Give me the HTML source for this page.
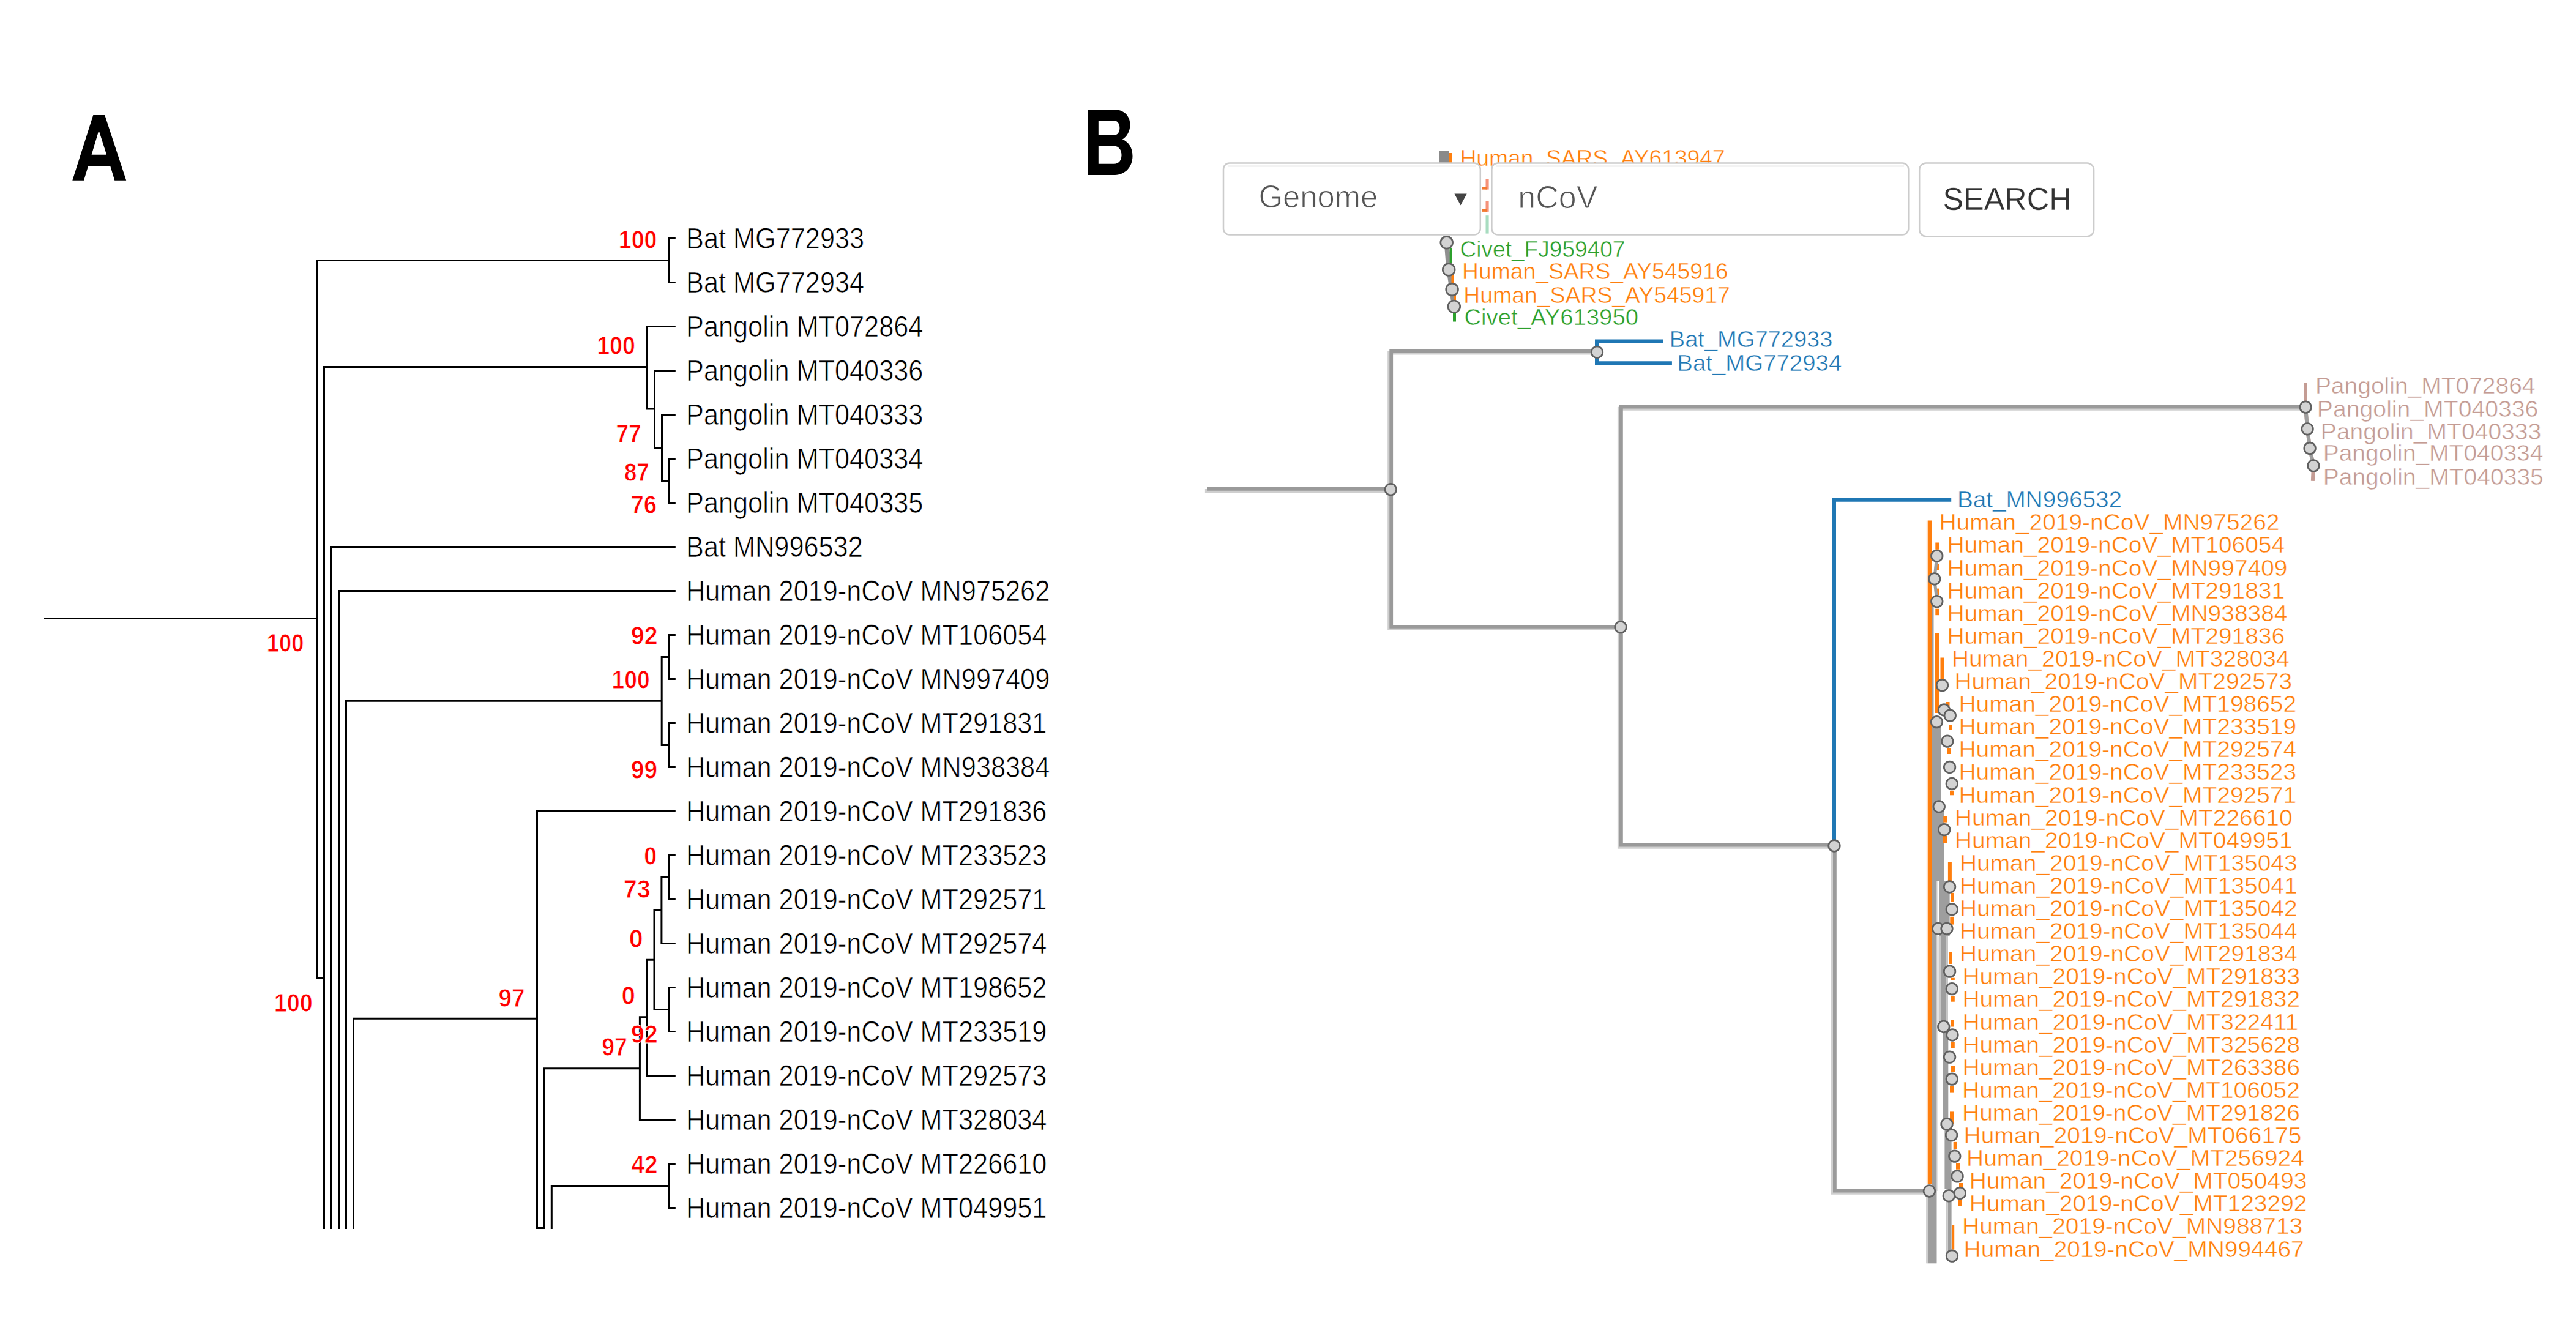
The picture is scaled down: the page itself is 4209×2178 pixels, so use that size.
<!DOCTYPE html>
<html><head><meta charset="utf-8"><style>
html,body{margin:0;padding:0;background:#fff;}
svg{display:block;}
text{font-family:"Liberation Sans", sans-serif;}
</style></head><body>
<svg width="4209" height="2178" viewBox="0 0 4209 2178">
<rect width="4209" height="2178" fill="#fff"/>
<path fill-rule="evenodd" fill="#000" d="M118.3,294.8L152.3,187.9L171.2,187.9L206.2,294.8L187.3,294.8L180.1,270.9L144.2,270.9L137,294.8Z M149.6,252.8L161.5,212.9L174.1,252.8Z"/>
<path fill-rule="evenodd" fill="#000" d="M1777.2,179H1820.4C1836,179 1846.5,189 1846.5,203.5C1846.5,215 1841,223.5 1833.9,227.8C1844.5,232 1850.5,242 1850.5,255C1850.5,273 1838,285.9 1822,285.9H1777.2Z M1794.8,197H1820C1826,197 1829.4,202 1829.4,209C1829.4,216 1826,221 1820,221H1794.8Z M1794.8,238.8H1820.5C1828,238.8 1832.5,245 1832.5,253.3C1832.5,262 1828,267.8 1820.5,267.8H1794.8Z"/>
<path d="M73.5,1010.5L517.5,1010.5M517.5,425.5L517.5,1597.5M517.5,425.5L1093.2,425.5M517.5,1597.5L529.5,1597.5M529.5,599.5L529.5,2006.5M529.5,599.5L1057.2,599.5M541.5,893.4L541.5,2006.5M541.5,893.4L1102.3,893.4M553.5,965.4L553.5,2006.5M553.5,965.4L1102.3,965.4M565.5,1145.3L565.5,2006.5M565.5,1145.3L1081.2,1145.3M577.5,1664.3L577.5,2006.5M577.5,1664.3L877.5,1664.3M1093.2,389.4L1093.2,461.4M1093.2,389.4L1102.3,389.4M1093.2,461.4L1102.3,461.4M1057.2,533.4L1057.2,668M1057.2,533.4L1102.3,533.4M1057.2,668L1069.5,668M1069.5,605.4L1069.5,731.5M1069.5,605.4L1102.3,605.4M1069.5,731.5L1081.5,731.5M1081.5,677.4L1081.5,785.4M1081.5,677.4L1102.3,677.4M1081.5,785.4L1093.2,785.4M1093.2,749.4L1093.2,821.4M1093.2,749.4L1102.3,749.4M1093.2,821.4L1102.3,821.4M1081.2,1073.4L1081.2,1217.4M1081.2,1073.4L1093.2,1073.4M1081.2,1217.4L1093.2,1217.4M1093.2,1037.4L1093.2,1109.4M1093.2,1037.4L1102.3,1037.4M1093.2,1109.4L1102.3,1109.4M1093.2,1181.4L1093.2,1253.4M1093.2,1181.4L1102.3,1181.4M1093.2,1253.4L1102.3,1253.4M877.5,1325.4L877.5,2006.5M877.5,1325.4L1102.3,1325.4M1093.2,1397.4L1093.2,1469.4M1093.2,1397.4L1102.3,1397.4M1093.2,1469.4L1102.3,1469.4M1080.9,1433.4L1093.2,1433.4M1080.9,1433.4L1080.9,1541.4M1080.9,1541.4L1102.3,1541.4M1069,1487.4L1080.9,1487.4M1069,1487.4L1069,1649.4M1069,1649.4L1093.2,1649.4M1093.2,1613.4L1093.2,1685.4M1093.2,1613.4L1102.3,1613.4M1093.2,1685.4L1102.3,1685.4M1057.1,1568.3L1069,1568.3M1057.1,1568.3L1057.1,1757.4M1057.1,1757.4L1102.3,1757.4M1045.4,1661.7L1057.1,1661.7M1045.4,1661.7L1045.4,1829.4M1045.4,1829.4L1102.3,1829.4M889.4,1745.7L1045.4,1745.7M889.4,1745.7L889.4,2006.5M1093.2,1901.4L1093.2,1973.4M1093.2,1901.4L1102.3,1901.4M1093.2,1973.4L1102.3,1973.4M901.3,1937.5L1093.2,1937.5M901.3,1937.5L901.3,2006.5M877.5,2006.5L889.4,2006.5" fill="none" stroke="#000" stroke-width="3" stroke-linecap="square"/>
<text transform="translate(1121.04,406.30) scale(0.9020,1)" font-size="48" font-weight="normal" fill="#000" stroke="#fff" stroke-width="0.7">Bat MG772933</text>
<text transform="translate(1121.04,478.30) scale(0.9020,1)" font-size="48" font-weight="normal" fill="#000" stroke="#fff" stroke-width="0.7">Bat MG772934</text>
<text transform="translate(1121.04,550.30) scale(0.9020,1)" font-size="48" font-weight="normal" fill="#000" stroke="#fff" stroke-width="0.7">Pangolin MT072864</text>
<text transform="translate(1121.04,622.30) scale(0.9020,1)" font-size="48" font-weight="normal" fill="#000" stroke="#fff" stroke-width="0.7">Pangolin MT040336</text>
<text transform="translate(1121.04,694.30) scale(0.9020,1)" font-size="48" font-weight="normal" fill="#000" stroke="#fff" stroke-width="0.7">Pangolin MT040333</text>
<text transform="translate(1121.04,766.30) scale(0.9020,1)" font-size="48" font-weight="normal" fill="#000" stroke="#fff" stroke-width="0.7">Pangolin MT040334</text>
<text transform="translate(1121.04,838.30) scale(0.9020,1)" font-size="48" font-weight="normal" fill="#000" stroke="#fff" stroke-width="0.7">Pangolin MT040335</text>
<text transform="translate(1121.04,910.30) scale(0.9020,1)" font-size="48" font-weight="normal" fill="#000" stroke="#fff" stroke-width="0.7">Bat MN996532</text>
<text transform="translate(1121.04,982.30) scale(0.9020,1)" font-size="48" font-weight="normal" fill="#000" stroke="#fff" stroke-width="0.7">Human 2019-nCoV MN975262</text>
<text transform="translate(1121.04,1054.30) scale(0.9020,1)" font-size="48" font-weight="normal" fill="#000" stroke="#fff" stroke-width="0.7">Human 2019-nCoV MT106054</text>
<text transform="translate(1121.04,1126.30) scale(0.9020,1)" font-size="48" font-weight="normal" fill="#000" stroke="#fff" stroke-width="0.7">Human 2019-nCoV MN997409</text>
<text transform="translate(1121.04,1198.30) scale(0.9020,1)" font-size="48" font-weight="normal" fill="#000" stroke="#fff" stroke-width="0.7">Human 2019-nCoV MT291831</text>
<text transform="translate(1121.04,1270.30) scale(0.9020,1)" font-size="48" font-weight="normal" fill="#000" stroke="#fff" stroke-width="0.7">Human 2019-nCoV MN938384</text>
<text transform="translate(1121.04,1342.30) scale(0.9020,1)" font-size="48" font-weight="normal" fill="#000" stroke="#fff" stroke-width="0.7">Human 2019-nCoV MT291836</text>
<text transform="translate(1121.04,1414.30) scale(0.9020,1)" font-size="48" font-weight="normal" fill="#000" stroke="#fff" stroke-width="0.7">Human 2019-nCoV MT233523</text>
<text transform="translate(1121.04,1486.30) scale(0.9020,1)" font-size="48" font-weight="normal" fill="#000" stroke="#fff" stroke-width="0.7">Human 2019-nCoV MT292571</text>
<text transform="translate(1121.04,1558.30) scale(0.9020,1)" font-size="48" font-weight="normal" fill="#000" stroke="#fff" stroke-width="0.7">Human 2019-nCoV MT292574</text>
<text transform="translate(1121.04,1630.30) scale(0.9020,1)" font-size="48" font-weight="normal" fill="#000" stroke="#fff" stroke-width="0.7">Human 2019-nCoV MT198652</text>
<text transform="translate(1121.04,1702.30) scale(0.9020,1)" font-size="48" font-weight="normal" fill="#000" stroke="#fff" stroke-width="0.7">Human 2019-nCoV MT233519</text>
<text transform="translate(1121.04,1774.30) scale(0.9020,1)" font-size="48" font-weight="normal" fill="#000" stroke="#fff" stroke-width="0.7">Human 2019-nCoV MT292573</text>
<text transform="translate(1121.04,1846.30) scale(0.9020,1)" font-size="48" font-weight="normal" fill="#000" stroke="#fff" stroke-width="0.7">Human 2019-nCoV MT328034</text>
<text transform="translate(1121.04,1918.30) scale(0.9020,1)" font-size="48" font-weight="normal" fill="#000" stroke="#fff" stroke-width="0.7">Human 2019-nCoV MT226610</text>
<text transform="translate(1121.04,1990.30) scale(0.9020,1)" font-size="48" font-weight="normal" fill="#000" stroke="#fff" stroke-width="0.7">Human 2019-nCoV MT049951</text>
<text transform="translate(1010.75,405.50) scale(0.8948,1)" font-size="42" font-weight="bold" fill="#f00" stroke="#fff" stroke-width="0.9">100</text>
<text transform="translate(975.14,579.40) scale(0.8963,1)" font-size="42" font-weight="bold" fill="#f00" stroke="#fff" stroke-width="0.9">100</text>
<text transform="translate(1006.52,722.80) scale(0.8784,1)" font-size="42" font-weight="bold" fill="#f00" stroke="#fff" stroke-width="0.9">77</text>
<text transform="translate(1019.90,785.80) scale(0.8700,1)" font-size="42" font-weight="bold" fill="#f00" stroke="#fff" stroke-width="0.9">87</text>
<text transform="translate(1030.46,839.30) scale(0.9158,1)" font-size="42" font-weight="bold" fill="#f00" stroke="#fff" stroke-width="0.9">76</text>
<text transform="translate(435.71,1065.40) scale(0.8675,1)" font-size="42" font-weight="bold" fill="#f00" stroke="#fff" stroke-width="0.9">100</text>
<text transform="translate(1030.82,1053.20) scale(0.9388,1)" font-size="42" font-weight="bold" fill="#f00" stroke="#fff" stroke-width="0.9">92</text>
<text transform="translate(999.56,1125.20) scale(0.8872,1)" font-size="42" font-weight="bold" fill="#f00" stroke="#fff" stroke-width="0.9">100</text>
<text transform="translate(1030.83,1272.00) scale(0.9297,1)" font-size="42" font-weight="bold" fill="#f00" stroke="#fff" stroke-width="0.9">99</text>
<text transform="translate(1052.20,1412.90) scale(0.8929,1)" font-size="42" font-weight="bold" fill="#f00" stroke="#fff" stroke-width="0.9">0</text>
<text transform="translate(1018.82,1467.30) scale(0.9432,1)" font-size="42" font-weight="bold" fill="#f00" stroke="#fff" stroke-width="0.9">73</text>
<text transform="translate(1027.75,1547.90) scale(0.9821,1)" font-size="42" font-weight="bold" fill="#f00" stroke="#fff" stroke-width="0.9">0</text>
<text transform="translate(1015.38,1641.00) scale(0.9623,1)" font-size="42" font-weight="bold" fill="#f00" stroke="#fff" stroke-width="0.9">0</text>
<text transform="translate(1030.71,1704.00) scale(0.9433,1)" font-size="42" font-weight="bold" fill="#f00" stroke="#fff" stroke-width="0.9">92</text>
<text transform="translate(983.28,1725.40) scale(0.8906,1)" font-size="42" font-weight="bold" fill="#f00" stroke="#fff" stroke-width="0.9">97</text>
<text transform="translate(814.54,1644.90) scale(0.9226,1)" font-size="42" font-weight="bold" fill="#f00" stroke="#fff" stroke-width="0.9">97</text>
<text transform="translate(447.73,1653.20) scale(0.9008,1)" font-size="42" font-weight="bold" fill="#f00" stroke="#fff" stroke-width="0.9">100</text>
<text transform="translate(1031.51,1917.30) scale(0.9257,1)" font-size="42" font-weight="bold" fill="#f00" stroke="#fff" stroke-width="0.9">42</text>
<text transform="translate(2385.53,271.00) scale(0.9832,1)" font-size="37.8" font-weight="normal" fill="#ff7f0e" stroke="#fff" stroke-width="0.5">Human_SARS_AY613947</text>
<rect x="2427.5" y="292.3" width="5.1" height="17.3" fill="#f5927a"/>
<rect x="2421" y="305.5" width="9" height="4.1" fill="#f27a30"/>
<rect x="2427.5" y="328.6" width="5.1" height="17.3" fill="#f5927a"/>
<rect x="2421" y="341.8" width="9" height="4.1" fill="#f27a30"/>
<rect x="2427.5" y="352.2" width="5.1" height="29.4" fill="#a8dcc0"/>
<rect x="2352" y="247" width="15" height="19" fill="#8a8a8a"/>
<rect x="2367" y="250" width="6" height="16" fill="#ff7f0e"/>
<path d="M2363.7,396.3L2367.2,440.5L2372.6,473L2375.8,500.9" fill="none" stroke="#8f8f8f" stroke-width="8" stroke-linecap="square"/>
<path d="M2370.7,408L2370.7,428" fill="none" stroke="#2ca02c" stroke-width="4" stroke-linecap="square" stroke-linecap="butt"/>
<path d="M2373.5,447L2373.5,460" fill="none" stroke="#ff7f0e" stroke-width="4" stroke-linecap="square" stroke-linecap="butt"/>
<path d="M2377,481L2377,490" fill="none" stroke="#ff7f0e" stroke-width="4" stroke-linecap="square" stroke-linecap="butt"/>
<path d="M2376.5,511L2376.5,523" fill="none" stroke="#2ca02c" stroke-width="5" stroke-linecap="square" stroke-linecap="butt"/>
<circle cx="2363.7" cy="396.3" r="9.9" fill="#d3d3d3" stroke="#606060" stroke-width="2.7"/>
<circle cx="2367.2" cy="440.5" r="9.9" fill="#d3d3d3" stroke="#606060" stroke-width="2.7"/>
<circle cx="2372.6" cy="473.0" r="9.9" fill="#d3d3d3" stroke="#606060" stroke-width="2.7"/>
<circle cx="2375.8" cy="500.9" r="9.9" fill="#d3d3d3" stroke="#606060" stroke-width="2.7"/>
<text transform="translate(2385.45,419.80) scale(0.9813,1)" font-size="37.8" font-weight="normal" fill="#2ca02c" stroke="#fff" stroke-width="0.5">Civet_FJ959407</text>
<text transform="translate(2389.02,456.20) scale(0.9862,1)" font-size="37.8" font-weight="normal" fill="#ff7f0e" stroke="#fff" stroke-width="0.5">Human_SARS_AY545916</text>
<text transform="translate(2391.31,495.00) scale(0.9889,1)" font-size="37.8" font-weight="normal" fill="#ff7f0e" stroke="#fff" stroke-width="0.5">Human_SARS_AY545917</text>
<text transform="translate(2392.38,531.20) scale(1.0135,1)" font-size="37.8" font-weight="normal" fill="#2ca02c" stroke="#fff" stroke-width="0.5">Civet_AY613950</text>
<path transform="translate(-2.1,2.2)" d="M1974,799.7H2272.3M2272.3,574.4V1024.6M2272.3,574.4H2609.5M2272.3,1024.6H2648M2648,665.5V1381.5M2648,665.5H3767M2648,1381.5H2997M2997,1381.5V1946.5M2997,1946.5H3152.5" fill="none" stroke="#cfcfcf" stroke-width="6" stroke-linecap="square"/>
<path transform="translate(0.9,-0.8)" d="M1974,799.7H2272.3M2272.3,574.4V1024.6M2272.3,574.4H2609.5M2272.3,1024.6H2648M2648,665.5V1381.5M2648,665.5H3767M2648,1381.5H2997M2997,1381.5V1946.5M2997,1946.5H3152.5" fill="none" stroke="#9a9a9a" stroke-width="5.8" stroke-linecap="square"/>
<path d="M2714.7,557.4H2609V593.2H2728.9" fill="none" stroke="#1f77b4" stroke-width="6" stroke-linecap="square" stroke-linecap="butt"/>
<circle cx="2272.3" cy="799.7" r="9.3" fill="#d3d3d3" stroke="#606060" stroke-width="2.7"/>
<circle cx="2609.5" cy="575.3" r="9.3" fill="#d3d3d3" stroke="#606060" stroke-width="2.7"/>
<circle cx="2648.0" cy="1024.6" r="9.3" fill="#d3d3d3" stroke="#606060" stroke-width="2.7"/>
<text transform="translate(2727.75,567.20) scale(1.0074,1)" font-size="37.8" font-weight="normal" fill="#1f77b4" stroke="#fff" stroke-width="0.5">Bat_MG772933</text>
<text transform="translate(2740.33,606.00) scale(1.0160,1)" font-size="37.8" font-weight="normal" fill="#1f77b4" stroke="#fff" stroke-width="0.5">Bat_MG772934</text>
<path d="M2997,1381.5V816.7H3185.2" fill="none" stroke="#1f77b4" stroke-width="6" stroke-linecap="square" stroke-linecap="butt"/>
<circle cx="2997.0" cy="1382.0" r="9.3" fill="#d3d3d3" stroke="#606060" stroke-width="2.7"/>
<text transform="translate(3197.90,828.70) scale(1.0252,1)" font-size="37.8" font-weight="normal" fill="#1f77b4" stroke="#fff" stroke-width="0.5">Bat_MN996532</text>
<path d="M3767,628.6L3767,665.2L3770.1,700.8L3774.1,732.4L3780,761L3779,782.8" fill="none" stroke="#c49c94" stroke-width="6" stroke-linecap="square" stroke-linecap="butt"/>
<path d="M3767.2,665.2L3770.1,700.8L3774.1,732.4L3780,761" fill="none" stroke="#9e9e9e" stroke-width="6" stroke-linecap="square"/>
<circle cx="3767.2" cy="665.2" r="9.3" fill="#d3d3d3" stroke="#606060" stroke-width="2.7"/>
<circle cx="3770.1" cy="700.8" r="9.3" fill="#d3d3d3" stroke="#606060" stroke-width="2.7"/>
<circle cx="3774.1" cy="732.4" r="9.3" fill="#d3d3d3" stroke="#606060" stroke-width="2.7"/>
<circle cx="3780.0" cy="761.0" r="9.3" fill="#d3d3d3" stroke="#606060" stroke-width="2.7"/>
<text transform="translate(3782.88,642.50) scale(1.0315,1)" font-size="37.8" font-weight="normal" fill="#c49c94" stroke="#fff" stroke-width="0.5">Pangolin_MT072864</text>
<text transform="translate(3785.87,681.00) scale(1.0367,1)" font-size="37.8" font-weight="normal" fill="#c49c94" stroke="#fff" stroke-width="0.5">Pangolin_MT040336</text>
<text transform="translate(3791.67,717.60) scale(1.0341,1)" font-size="37.8" font-weight="normal" fill="#c49c94" stroke="#fff" stroke-width="0.5">Pangolin_MT040333</text>
<text transform="translate(3795.68,753.10) scale(1.0318,1)" font-size="37.8" font-weight="normal" fill="#c49c94" stroke="#fff" stroke-width="0.5">Pangolin_MT040334</text>
<text transform="translate(3795.68,791.70) scale(1.0329,1)" font-size="37.8" font-weight="normal" fill="#c49c94" stroke="#fff" stroke-width="0.5">Pangolin_MT040335</text>
<rect x="3156.5" y="983.0" width="3.0" height="197.0" fill="#9e9e9e"/>
<rect x="3156.3" y="1180.0" width="15.0" height="138.0" fill="#9e9e9e"/>
<rect x="3156.3" y="1318.0" width="7.2" height="628.0" fill="#9e9e9e"/>
<rect x="3163.5" y="1318.0" width="2.0" height="628.0" fill="#c8c8c8"/>
<rect x="3162.0" y="1318.0" width="14.5" height="122.0" fill="#9e9e9e"/>
<rect x="3168.3" y="1440.0" width="17.3" height="90.0" fill="#9e9e9e"/>
<rect x="3171.3" y="1530.0" width="8.2" height="140.0" fill="#9e9e9e"/>
<rect x="3179.5" y="1530.0" width="3.5" height="140.0" fill="#c8c8c8"/>
<rect x="3167.5" y="1530.0" width="3.8" height="140.0" fill="#c8c8c8"/>
<rect x="3174.3" y="1670.0" width="9.0" height="170.0" fill="#9e9e9e"/>
<rect x="3177.4" y="1840.0" width="11.2" height="103.0" fill="#9e9e9e"/>
<rect x="3182.6" y="1943.0" width="6.0" height="109.0" fill="#9e9e9e"/>
<rect x="3179.6" y="1943.0" width="3.0" height="109.0" fill="#c8c8c8"/>
<rect x="3149.8" y="1946.0" width="14.7" height="118.3" fill="#9e9e9e"/>
<rect x="3147.2" y="1946.0" width="2.6" height="118.3" fill="#c8c8c8"/>
<rect x="3150.3" y="850.5" width="6.0" height="1084.5" fill="#ff7f0e"/>
<rect x="3147.8" y="850.5" width="2.5" height="1084.5" fill="#ffd9b8"/>
<rect x="3162.0" y="1035.0" width="6.0" height="130.0" fill="#ff7f0e"/>
<rect x="3170.5" y="1074.5" width="6.0" height="44.5" fill="#ff7f0e"/>
<rect x="3162.3" y="886.5" width="6.0" height="11.3" fill="#ff7f0e"/>
<rect x="3162.3" y="921.0" width="6.0" height="10.6" fill="#ff7f0e"/>
<rect x="3162.3" y="961.6" width="6.0" height="10.4" fill="#ff7f0e"/>
<rect x="3162.3" y="994.7" width="6.0" height="10.5" fill="#ff7f0e"/>
<rect x="3179.5" y="1147.0" width="6.0" height="7.0" fill="#ff7f0e"/>
<rect x="3184.0" y="1184.0" width="6.0" height="8.0" fill="#ff7f0e"/>
<rect x="3181.0" y="1222.0" width="6.0" height="10.0" fill="#ff7f0e"/>
<rect x="3186.0" y="1291.8" width="6.0" height="7.5" fill="#ff7f0e"/>
<rect x="3175.3" y="1333.0" width="6.0" height="10.6" fill="#ff7f0e"/>
<rect x="3175.0" y="1366.0" width="6.0" height="11.4" fill="#ff7f0e"/>
<rect x="3182.9" y="1408.0" width="6.0" height="32.0" fill="#ff7f0e"/>
<rect x="3187.0" y="1458.8" width="6.0" height="15.0" fill="#ff7f0e"/>
<rect x="3186.3" y="1497.8" width="6.0" height="12.8" fill="#ff7f0e"/>
<rect x="3184.0" y="1555.6" width="6.0" height="19.4" fill="#ff7f0e"/>
<rect x="3187.8" y="1597.7" width="6.0" height="4.3" fill="#ff7f0e"/>
<rect x="3187.8" y="1627.0" width="6.0" height="9.7" fill="#ff7f0e"/>
<rect x="3187.0" y="1667.0" width="6.0" height="10.5" fill="#ff7f0e"/>
<rect x="3187.8" y="1702.3" width="6.0" height="10.5" fill="#ff7f0e"/>
<rect x="3188.0" y="1742.0" width="6.0" height="9.0" fill="#ff7f0e"/>
<rect x="3186.0" y="1775.0" width="6.0" height="10.6" fill="#ff7f0e"/>
<rect x="3186.0" y="1816.4" width="6.0" height="20.3" fill="#ff7f0e"/>
<rect x="3191.7" y="1865.9" width="6.0" height="12.1" fill="#ff7f0e"/>
<rect x="3196.0" y="1900.0" width="6.0" height="10.7" fill="#ff7f0e"/>
<rect x="3201.0" y="1933.0" width="6.0" height="6.0" fill="#ff7f0e"/>
<rect x="3199.4" y="1960.7" width="6.0" height="10.3" fill="#ff7f0e"/>
<rect x="3189.2" y="2002.0" width="4.0" height="39.7" fill="#ff7f0e"/>
<path d="M3164.8,908.3L3160.8,945.9L3164.8,982.6" fill="none" stroke="#9e9e9e" stroke-width="5" stroke-linecap="square"/>
<circle cx="3164.8" cy="908.3" r="9.3" fill="#d3d3d3" stroke="#606060" stroke-width="2.7"/>
<circle cx="3160.8" cy="945.9" r="9.3" fill="#d3d3d3" stroke="#606060" stroke-width="2.7"/>
<circle cx="3164.8" cy="982.6" r="9.3" fill="#d3d3d3" stroke="#606060" stroke-width="2.7"/>
<circle cx="3173.5" cy="1119.6" r="9.3" fill="#d3d3d3" stroke="#606060" stroke-width="2.7"/>
<circle cx="3176.5" cy="1160.0" r="9.3" fill="#d3d3d3" stroke="#606060" stroke-width="2.7"/>
<circle cx="3186.3" cy="1169.1" r="9.3" fill="#d3d3d3" stroke="#606060" stroke-width="2.7"/>
<circle cx="3164.5" cy="1179.6" r="9.3" fill="#d3d3d3" stroke="#606060" stroke-width="2.7"/>
<circle cx="3181.8" cy="1211.2" r="9.3" fill="#d3d3d3" stroke="#606060" stroke-width="2.7"/>
<circle cx="3185.6" cy="1253.5" r="9.3" fill="#d3d3d3" stroke="#606060" stroke-width="2.7"/>
<circle cx="3189.3" cy="1280.5" r="9.3" fill="#d3d3d3" stroke="#606060" stroke-width="2.7"/>
<circle cx="3168.3" cy="1318.0" r="9.3" fill="#d3d3d3" stroke="#606060" stroke-width="2.7"/>
<circle cx="3176.8" cy="1355.6" r="9.3" fill="#d3d3d3" stroke="#606060" stroke-width="2.7"/>
<circle cx="3185.6" cy="1449.0" r="9.3" fill="#d3d3d3" stroke="#606060" stroke-width="2.7"/>
<circle cx="3189.3" cy="1485.8" r="9.3" fill="#d3d3d3" stroke="#606060" stroke-width="2.7"/>
<circle cx="3166.8" cy="1517.3" r="9.3" fill="#d3d3d3" stroke="#606060" stroke-width="2.7"/>
<circle cx="3181.0" cy="1517.3" r="9.3" fill="#d3d3d3" stroke="#606060" stroke-width="2.7"/>
<circle cx="3185.6" cy="1587.1" r="9.3" fill="#d3d3d3" stroke="#606060" stroke-width="2.7"/>
<circle cx="3189.3" cy="1615.7" r="9.3" fill="#d3d3d3" stroke="#606060" stroke-width="2.7"/>
<circle cx="3175.8" cy="1677.5" r="9.3" fill="#d3d3d3" stroke="#606060" stroke-width="2.7"/>
<circle cx="3190.0" cy="1691.0" r="9.3" fill="#d3d3d3" stroke="#606060" stroke-width="2.7"/>
<circle cx="3185.6" cy="1727.1" r="9.3" fill="#d3d3d3" stroke="#606060" stroke-width="2.7"/>
<circle cx="3189.3" cy="1763.1" r="9.3" fill="#d3d3d3" stroke="#606060" stroke-width="2.7"/>
<circle cx="3181.0" cy="1836.7" r="9.3" fill="#d3d3d3" stroke="#606060" stroke-width="2.7"/>
<circle cx="3188.6" cy="1854.7" r="9.3" fill="#d3d3d3" stroke="#606060" stroke-width="2.7"/>
<circle cx="3193.8" cy="1889.1" r="9.3" fill="#d3d3d3" stroke="#606060" stroke-width="2.7"/>
<circle cx="3198.1" cy="1921.9" r="9.3" fill="#d3d3d3" stroke="#606060" stroke-width="2.7"/>
<circle cx="3184.3" cy="1953.8" r="9.3" fill="#d3d3d3" stroke="#606060" stroke-width="2.7"/>
<circle cx="3202.4" cy="1949.5" r="9.3" fill="#d3d3d3" stroke="#606060" stroke-width="2.7"/>
<circle cx="3189.5" cy="2052.1" r="9.3" fill="#d3d3d3" stroke="#606060" stroke-width="2.7"/>
<circle cx="3152.4" cy="1946.0" r="9.3" fill="#d3d3d3" stroke="#606060" stroke-width="2.7"/>
<text transform="translate(3168.39,866.30) scale(1.0300,1)" font-size="37.8" font-weight="normal" fill="#ff7f0e" stroke="#fff" stroke-width="0.5">Human_2019-nCoV_MN975262</text>
<text transform="translate(3181.39,903.40) scale(1.0300,1)" font-size="37.8" font-weight="normal" fill="#ff7f0e" stroke="#fff" stroke-width="0.5">Human_2019-nCoV_MT106054</text>
<text transform="translate(3181.39,940.50) scale(1.0300,1)" font-size="37.8" font-weight="normal" fill="#ff7f0e" stroke="#fff" stroke-width="0.5">Human_2019-nCoV_MN997409</text>
<text transform="translate(3181.39,977.60) scale(1.0300,1)" font-size="37.8" font-weight="normal" fill="#ff7f0e" stroke="#fff" stroke-width="0.5">Human_2019-nCoV_MT291831</text>
<text transform="translate(3181.39,1014.70) scale(1.0300,1)" font-size="37.8" font-weight="normal" fill="#ff7f0e" stroke="#fff" stroke-width="0.5">Human_2019-nCoV_MN938384</text>
<text transform="translate(3181.39,1051.80) scale(1.0300,1)" font-size="37.8" font-weight="normal" fill="#ff7f0e" stroke="#fff" stroke-width="0.5">Human_2019-nCoV_MT291836</text>
<text transform="translate(3188.89,1088.90) scale(1.0300,1)" font-size="37.8" font-weight="normal" fill="#ff7f0e" stroke="#fff" stroke-width="0.5">Human_2019-nCoV_MT328034</text>
<text transform="translate(3193.39,1126.00) scale(1.0300,1)" font-size="37.8" font-weight="normal" fill="#ff7f0e" stroke="#fff" stroke-width="0.5">Human_2019-nCoV_MT292573</text>
<text transform="translate(3200.39,1163.10) scale(1.0300,1)" font-size="37.8" font-weight="normal" fill="#ff7f0e" stroke="#fff" stroke-width="0.5">Human_2019-nCoV_MT198652</text>
<text transform="translate(3200.39,1200.20) scale(1.0300,1)" font-size="37.8" font-weight="normal" fill="#ff7f0e" stroke="#fff" stroke-width="0.5">Human_2019-nCoV_MT233519</text>
<text transform="translate(3200.39,1237.30) scale(1.0300,1)" font-size="37.8" font-weight="normal" fill="#ff7f0e" stroke="#fff" stroke-width="0.5">Human_2019-nCoV_MT292574</text>
<text transform="translate(3200.39,1274.40) scale(1.0300,1)" font-size="37.8" font-weight="normal" fill="#ff7f0e" stroke="#fff" stroke-width="0.5">Human_2019-nCoV_MT233523</text>
<text transform="translate(3200.39,1311.50) scale(1.0300,1)" font-size="37.8" font-weight="normal" fill="#ff7f0e" stroke="#fff" stroke-width="0.5">Human_2019-nCoV_MT292571</text>
<text transform="translate(3193.89,1348.60) scale(1.0300,1)" font-size="37.8" font-weight="normal" fill="#ff7f0e" stroke="#fff" stroke-width="0.5">Human_2019-nCoV_MT226610</text>
<text transform="translate(3193.89,1385.70) scale(1.0300,1)" font-size="37.8" font-weight="normal" fill="#ff7f0e" stroke="#fff" stroke-width="0.5">Human_2019-nCoV_MT049951</text>
<text transform="translate(3201.89,1422.80) scale(1.0300,1)" font-size="37.8" font-weight="normal" fill="#ff7f0e" stroke="#fff" stroke-width="0.5">Human_2019-nCoV_MT135043</text>
<text transform="translate(3201.89,1459.90) scale(1.0300,1)" font-size="37.8" font-weight="normal" fill="#ff7f0e" stroke="#fff" stroke-width="0.5">Human_2019-nCoV_MT135041</text>
<text transform="translate(3201.89,1497.00) scale(1.0300,1)" font-size="37.8" font-weight="normal" fill="#ff7f0e" stroke="#fff" stroke-width="0.5">Human_2019-nCoV_MT135042</text>
<text transform="translate(3201.89,1534.10) scale(1.0300,1)" font-size="37.8" font-weight="normal" fill="#ff7f0e" stroke="#fff" stroke-width="0.5">Human_2019-nCoV_MT135044</text>
<text transform="translate(3201.89,1571.20) scale(1.0300,1)" font-size="37.8" font-weight="normal" fill="#ff7f0e" stroke="#fff" stroke-width="0.5">Human_2019-nCoV_MT291834</text>
<text transform="translate(3206.39,1608.30) scale(1.0300,1)" font-size="37.8" font-weight="normal" fill="#ff7f0e" stroke="#fff" stroke-width="0.5">Human_2019-nCoV_MT291833</text>
<text transform="translate(3206.39,1645.40) scale(1.0300,1)" font-size="37.8" font-weight="normal" fill="#ff7f0e" stroke="#fff" stroke-width="0.5">Human_2019-nCoV_MT291832</text>
<text transform="translate(3206.39,1682.50) scale(1.0300,1)" font-size="37.8" font-weight="normal" fill="#ff7f0e" stroke="#fff" stroke-width="0.5">Human_2019-nCoV_MT322411</text>
<text transform="translate(3206.39,1719.60) scale(1.0300,1)" font-size="37.8" font-weight="normal" fill="#ff7f0e" stroke="#fff" stroke-width="0.5">Human_2019-nCoV_MT325628</text>
<text transform="translate(3206.39,1756.70) scale(1.0300,1)" font-size="37.8" font-weight="normal" fill="#ff7f0e" stroke="#fff" stroke-width="0.5">Human_2019-nCoV_MT263386</text>
<text transform="translate(3206.09,1793.80) scale(1.0300,1)" font-size="37.8" font-weight="normal" fill="#ff7f0e" stroke="#fff" stroke-width="0.5">Human_2019-nCoV_MT106052</text>
<text transform="translate(3206.09,1830.90) scale(1.0300,1)" font-size="37.8" font-weight="normal" fill="#ff7f0e" stroke="#fff" stroke-width="0.5">Human_2019-nCoV_MT291826</text>
<text transform="translate(3208.59,1868.00) scale(1.0300,1)" font-size="37.8" font-weight="normal" fill="#ff7f0e" stroke="#fff" stroke-width="0.5">Human_2019-nCoV_MT066175</text>
<text transform="translate(3213.09,1905.10) scale(1.0300,1)" font-size="37.8" font-weight="normal" fill="#ff7f0e" stroke="#fff" stroke-width="0.5">Human_2019-nCoV_MT256924</text>
<text transform="translate(3217.69,1942.20) scale(1.0300,1)" font-size="37.8" font-weight="normal" fill="#ff7f0e" stroke="#fff" stroke-width="0.5">Human_2019-nCoV_MT050493</text>
<text transform="translate(3217.69,1979.30) scale(1.0300,1)" font-size="37.8" font-weight="normal" fill="#ff7f0e" stroke="#fff" stroke-width="0.5">Human_2019-nCoV_MT123292</text>
<text transform="translate(3206.09,2016.40) scale(1.0300,1)" font-size="37.8" font-weight="normal" fill="#ff7f0e" stroke="#fff" stroke-width="0.5">Human_2019-nCoV_MN988713</text>
<text transform="translate(3208.59,2053.50) scale(1.0300,1)" font-size="37.8" font-weight="normal" fill="#ff7f0e" stroke="#fff" stroke-width="0.5">Human_2019-nCoV_MN994467</text>
<rect x="1999" y="266.5" width="419.8" height="117" rx="10" fill="#fff" stroke="#ccc" stroke-width="2.5"/>
<rect x="2437.4" y="266.4" width="680.9" height="117.2" rx="10" fill="#fff" stroke="#ccc" stroke-width="2.5"/>
<rect x="3136.2" y="266.4" width="284.9" height="119.9" rx="11" fill="#fff" stroke="#ccc" stroke-width="2.5"/>
<rect x="2006" y="269" width="406" height="4" fill="#f3f3f3"/>
<rect x="2444" y="269" width="667" height="4" fill="#f3f3f3"/>
<text transform="translate(2056.46,339.20) scale(0.9961,1)" font-size="51" font-weight="normal" fill="#555" stroke="#fff" stroke-width="1.1">Genome</text>
<text transform="translate(2480.36,339.70) scale(1.0193,1)" font-size="51" font-weight="normal" fill="#555" stroke="#fff" stroke-width="1.1">nCoV</text>
<text transform="translate(3174.48,342.50) scale(0.9886,1)" font-size="51" font-weight="normal" fill="#333" stroke="#fff" stroke-width="0.3">SEARCH</text>
<path d="M2376.4,316.4H2396.7L2386.5,335.5Z" fill="#444"/>
</svg>
</body></html>
